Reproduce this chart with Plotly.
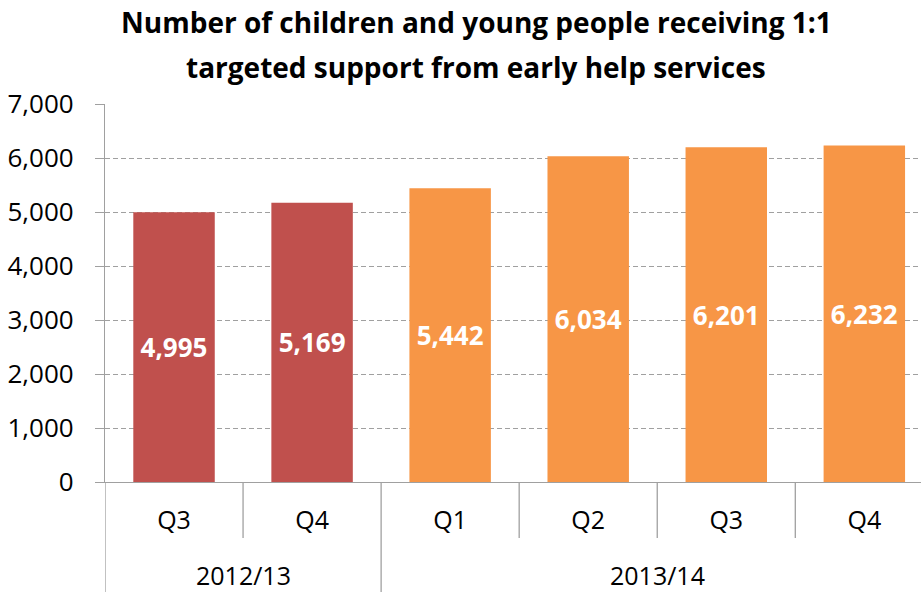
import plotly.graph_objects as go

# Quarterly counts of children and young people receiving 1:1 targeted support
quarters = ["Q3", "Q4", "Q1", "Q2", "Q3", "Q4"]
years = ["2012/13", "2012/13", "2013/14", "2013/14", "2013/14", "2013/14"]
counts = [4995, 5169, 5442, 6034, 6201, 6232]
year_labels = ["2012/13", "2013/14"]

RED = "#C0504D"
ORANGE = "#F79646"
GREY = "#A0A0A0"
FONT = "Open Sans"

bar_colors = [RED if y == "2012/13" else ORANGE for y in years]
xpos = list(range(len(quarters)))

W, H = 921, 592
ML, MR, MT, MB = 105, 0, 104, 110
pw, ph = W - ML - MR, H - MT - MB

fig = go.Figure(
    go.Bar(
        x=xpos,
        y=counts,
        width=0.59,
        marker=dict(color=bar_colors, line=dict(width=0)),
        text=[f"{v:,}" for v in counts],
        textposition="inside",
        insidetextanchor="middle",
        textangle=0,
        textfont=dict(family=FONT, size=26, color="white", weight="bold"),
        cliponaxis=False,
    )
)

# Divider lines between categories under the axis
shapes = []
bottom_inner = -56 / ph
bottom_group = -112 / ph
for i in range(len(quarters) + 1):
    b = i - 0.5
    left_year = years[i - 1] if i > 0 else None
    right_year = years[i] if i < len(years) else None
    is_group = left_year != right_year
    shapes.append(dict(
        type="line", xref="x", yref="paper",
        x0=b, x1=b, y0=0, y1=bottom_group if is_group else bottom_inner,
        line=dict(color=GREY, width=1.3),
    ))

# Year group labels centred beneath their quarters
annotations = []
for yl in year_labels:
    idx = [i for i, y in enumerate(years) if y == yl]
    centre = (idx[0] + idx[-1]) / 2
    annotations.append(dict(
        x=centre, y=-93 / ph, xref="x", yref="paper",
        text=yl, showarrow=False, yanchor="middle", xanchor="center",
        font=dict(family=FONT, size=25, color="#000000"),
    ))

# Two-line bold title, positioned in pixels then converted to paper units
title_lines = ["Number of children and young people receiving 1:1",
               "targeted support from early help services"]
for k, line in enumerate(title_lines):
    px_x, px_y = 476, 22 + 45 * k
    annotations.append(dict(
        x=(px_x - ML) / pw, y=(H - px_y - MB) / ph,
        xref="paper", yref="paper",
        text=line, showarrow=False, yanchor="middle", xanchor="center",
        font=dict(family=FONT, size=28, color="#000000", weight="bold"),
    ))

fig.update_layout(
    width=W, height=H,
    margin=dict(l=ML, r=MR, t=MT, b=MB, pad=0),
    paper_bgcolor="white", plot_bgcolor="white",
    showlegend=False,
    font=dict(family=FONT, color="#000000"),
    shapes=shapes,
    annotations=annotations,
    xaxis=dict(
        range=[-0.5, -0.5 + pw / 138.06],
        tickmode="array", tickvals=xpos, ticktext=quarters,
        ticks="", showgrid=False, zeroline=False,
        showline=True, linecolor=GREY, linewidth=1.3,
        tickfont=dict(family=FONT, size=25, color="#000000"),
        ticklabelstandoff=16,
        fixedrange=True,
    ),
    yaxis=dict(
        range=[0, 7000], tickvals=list(range(0, 7001, 1000)),
        tickformat=",d",
        showgrid=True, gridcolor=GREY, griddash="5px,3px", gridwidth=1.3,
        zeroline=False,
        showline=True, linecolor=GREY, linewidth=1.3,
        ticks="outside", ticklen=9, tickcolor=GREY, tickwidth=1.3,
        tickfont=dict(family=FONT, size=26, color="#000000"),
        ticklabelstandoff=16,
        fixedrange=True,
    ),
)

fig.write_html("out.html")
